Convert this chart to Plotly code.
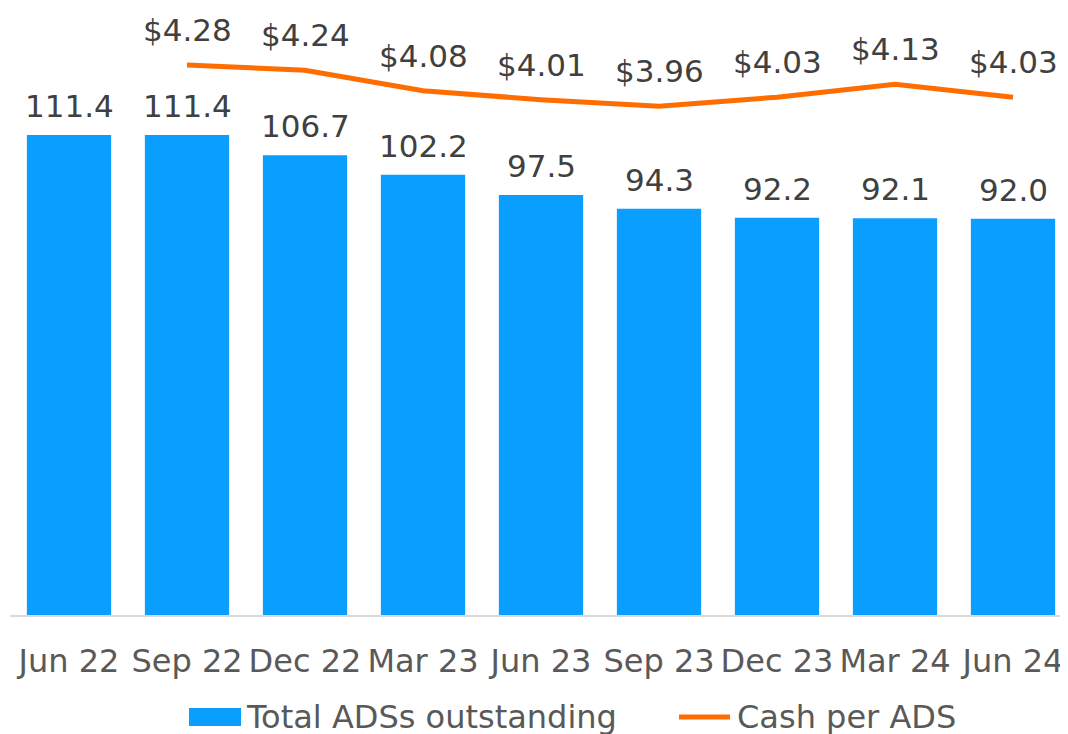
import plotly.graph_objects as go

categories = ["Jun 22", "Sep 22", "Dec 22", "Mar 23", "Jun 23", "Sep 23", "Dec 23", "Mar 24", "Jun 24"]
ads_outstanding = [111.4, 111.4, 106.7, 102.2, 97.5, 94.3, 92.2, 92.1, 92.0]
cash_per_ads = [None, 4.28, 4.24, 4.08, 4.01, 3.96, 4.03, 4.13, 4.03]
bar_name = "Total ADSs outstanding"
line_name = "Cash per ADS"

OFF = 8  # page body margin
W, H = 1068 - OFF, 734 - OFF
PL, PR, PT, PB = 10 - OFF, 0, 0, 734 - 615
BLUE = "#0A9EFF"
ORANGE = "#FF6D00"
FONT = "DejaVu Sans"

fig = go.Figure()
fig.add_trace(go.Bar(x=categories, y=ads_outstanding, name=bar_name,
                     marker=dict(color=BLUE, line=dict(width=0)), showlegend=False))
fig.add_trace(go.Scatter(x=categories, y=cash_per_ads, name=line_name, yaxis="y2",
                         mode="lines", line=dict(color=ORANGE, width=5),
                         connectgaps=False, showlegend=False))

ann = []
for c, v in zip(categories, ads_outstanding):
    ann.append(dict(x=c, y=v, xref="x", yref="y", text=f"{v:.1f}", showarrow=False,
                    yanchor="bottom", yshift=9, font=dict(family=FONT, size=31, color="#404040")))
for c, v in zip(categories, cash_per_ads):
    if v is None:
        continue
    ann.append(dict(x=c, y=v, xref="x", yref="y2", text=f"${v:.2f}", showarrow=False,
                    yanchor="bottom", yshift=15, font=dict(family=FONT, size=31, color="#404040")))

pw = W - PL - PR
ph = H - PT - PB
def px_x(p):  # page pixel -> paper
    return (p - OFF - PL) / pw
def px_y(p):
    return (H - PB - (p - OFF)) / ph

# custom legend
shapes = [
    dict(type="rect", xref="paper", yref="paper", x0=px_x(189), x1=px_x(241),
         y0=px_y(726), y1=px_y(708), fillcolor=BLUE, line=dict(width=0)),
    dict(type="line", xref="paper", yref="paper", x0=px_x(679), x1=px_x(730),
         y0=px_y(717), y1=px_y(717), line=dict(color=ORANGE, width=5), layer="above"),
]
ann.append(dict(x=px_x(244), y=px_y(717), xref="paper", yref="paper", text=bar_name,
                showarrow=False, xanchor="left", yanchor="middle",
                font=dict(family=FONT, size=32, color="#595959")))
ann.append(dict(x=px_x(735), y=px_y(717), xref="paper", yref="paper", text=line_name,
                showarrow=False, xanchor="left", yanchor="middle",
                font=dict(family=FONT, size=32, color="#595959")))

fig.update_layout(
    width=W, height=H,
    margin=dict(l=PL, r=PR, t=PT, b=PB, pad=0),
    paper_bgcolor="white", plot_bgcolor="white",
    bargap=0.286,
    font=dict(family=FONT, size=32, color="#595959"),
    xaxis=dict(range=[-0.5, 8.466], showgrid=False, showline=True, linecolor="#D9D9D9",
               linewidth=2, ticks="", ticklabelstandoff=17,
               tickfont=dict(family=FONT, size=32, color="#595959")),
    yaxis=dict(range=[0, 140.9], visible=False, showgrid=False),
    yaxis2=dict(range=[0, 4.724], overlaying="y", visible=False, showgrid=False),
    annotations=ann, shapes=shapes, showlegend=False,
)

fig.write_html("out.html")
